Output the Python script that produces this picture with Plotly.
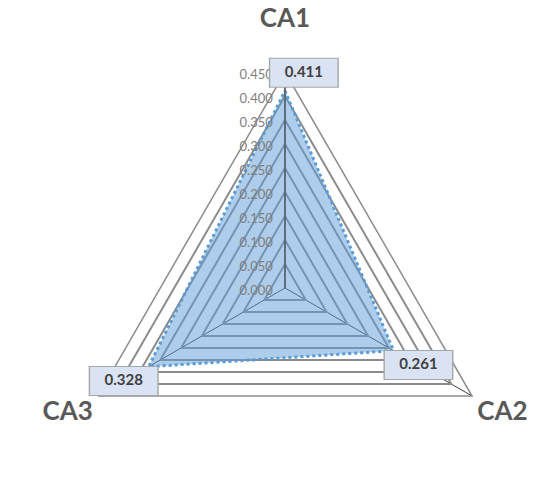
import plotly.graph_objects as go

categories = ["CA1", "CA2", "CA3"]
values = [0.411, 0.261, 0.328]
value_labels = ["0.411", "0.261", "0.328"]
radial_ticks = [0.0, 0.05, 0.10, 0.15, 0.20, 0.25, 0.30, 0.35, 0.40, 0.45]
radial_tick_labels = ["0.000", "0.050", "0.100", "0.150", "0.200",
                      "0.250", "0.300", "0.350", "0.400", "0.450"]
RMAX = 0.45

# data-label boxes live on an overlaid numeric polar with identical geometry:
# category i sits at angle i*120 deg there; small offsets place the boxes
category_angle = [0, 120, 240]
label_angle_offset = [5, 0, 0]
label_offset = [0.05, 0.06, 0.06]
label_r = [min(v + o, RMAX) for v, o in zip(values, label_offset)]
label_theta = [a + d for a, d in zip(category_angle, label_angle_offset)]

# category tick text (extra blank line lifts the top title clear of the label box)
category_ticktext = ["CA1<br> ", "CA2", "CA3"]

cats_closed = categories + categories[:1]
vals_closed = values + values[:1]

FONT = "Lato"
DOMAIN = dict(x=[0, 1], y=[0, 1])

fig = go.Figure()
fig.add_trace(go.Scatterpolar(
    r=vals_closed, theta=cats_closed, mode="lines", fill="toself",
    fillcolor="rgba(91,155,213,0.5)",
    line=dict(color="#5B9BD5", width=3, dash="dot"),
    hoverinfo="skip", subplot="polar"))
# label box border
fig.add_trace(go.Scatterpolar(
    r=label_r, theta=label_theta, mode="markers",
    marker=dict(symbol="line-ew", size=50, color="#A6A6A6",
                line=dict(color="#A6A6A6", width=30)),
    cliponaxis=False, hoverinfo="skip", subplot="polar2"))
# label box fill + text
fig.add_trace(go.Scatterpolar(
    r=label_r, theta=label_theta, mode="markers+text",
    marker=dict(symbol="line-ew", size=48, color="#DAE3F3",
                line=dict(color="#DAE3F3", width=28)),
    text=value_labels, textposition="middle center",
    textfont=dict(family=FONT, size=15, color="#404040", weight="bold"),
    cliponaxis=False, hoverinfo="skip", subplot="polar2"))

fig.update_layout(
    width=555, height=504,
    margin=dict(l=15, r=0, t=72, b=0),
    paper_bgcolor="white",
    showlegend=False,
    polar=dict(
        domain=DOMAIN,
        bgcolor="white",
        gridshape="linear",
        radialaxis=dict(
            range=[0, RMAX], tickvals=radial_ticks, ticktext=radial_tick_labels,
            angle=90, side="counterclockwise", showline=True,
            linecolor="#404040", linewidth=1,
            gridcolor="#8C8C8C", gridwidth=1.5, ticks="",
            tickfont=dict(family=FONT, size=13, color="#808080")),
        angularaxis=dict(
            rotation=90, direction="clockwise",
            tickvals=categories, ticktext=category_ticktext,
            linecolor="#8C8C8C", linewidth=1.5,
            gridcolor="#404040", gridwidth=1, ticks="",
            tickfont=dict(family=FONT, size=26, color="#595959", weight="bold")),
    ),
    polar2=dict(
        domain=DOMAIN,
        bgcolor="rgba(0,0,0,0)",
        gridshape="linear",
        radialaxis=dict(range=[0, RMAX], visible=False),
        angularaxis=dict(rotation=90, direction="clockwise", visible=False,
                         type="linear", thetaunit="degrees"),
    ),
)

fig.write_html("out.html")
